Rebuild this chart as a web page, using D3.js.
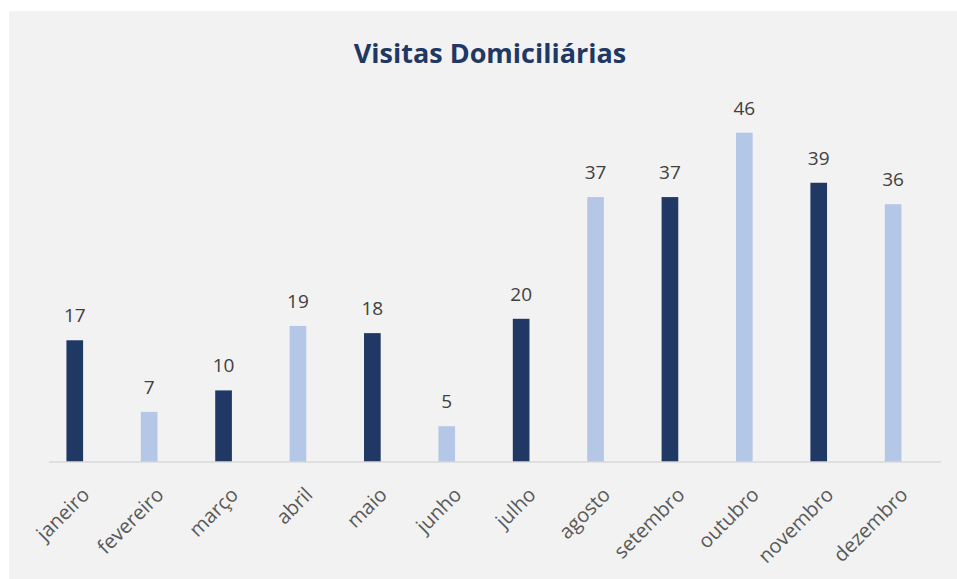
<!DOCTYPE html>
<html>
<head>
<meta charset="utf-8">
<script src="https://cdn.jsdelivr.net/npm/d3@7"></script>
<style>
  body { margin: 0; background: #fff; }
  svg { display: block; }
  .title { font-family: "Open Sans", sans-serif; font-weight: bold; font-size: 27px; fill: #1f3864; }
  .val { font-family: "Open Sans", sans-serif; font-size: 19px; fill: #404040; }
  .month { font-family: "Open Sans", sans-serif; font-size: 20px; fill: #595959; }
</style>
</head>
<body>
<div id="chart"></div>
<script>
var months = ["janeiro", "fevereiro", "março", "abril", "maio", "junho",
              "julho", "agosto", "setembro", "outubro", "novembro", "dezembro"];
var visitas = [17, 7, 10, 19, 18, 5, 20, 37, 37, 46, 39, 36];
var barColors = ["#1f3864", "#b4c7e7"];

var W = 957, H = 579;
var margin = {top: 104, right: 16, bottom: 117, left: 49},
    width = W - margin.left - margin.right,
    height = H - margin.top - margin.bottom;

var svg = d3.select("#chart")
  .append("svg")
    .attr("width", W)
    .attr("height", H);

// panel background
svg.append("rect")
  .attr("x", 9).attr("y", 11)
  .attr("width", W - 9).attr("height", H - 11)
  .attr("fill", "#f2f2f2");

svg.append("text")
  .text("Visitas Domiciliárias")
  .classed("title", true)
  .attr("text-anchor", "middle")
  .attr("x", 490)
  .attr("y", 63);

var g = svg.append("g")
  .attr("transform", "translate(" + margin.left + "," + margin.top + ")");

var x = d3.scaleBand()
  .domain(months)
  .range([0, width])
  .paddingInner(0.776)
  .paddingOuter(0.383)
  .align(0.306);

var y = d3.scaleLinear()
  .domain([0, 50])
  .range([height, 0]);

g.selectAll("rect.bar")
  .data(visitas)
  .enter()
  .append("rect")
    .attr("class", "bar")
    .attr("x", function(d, i) { return x(months[i]); })
    .attr("y", function(d) { return y(d); })
    .attr("width", x.bandwidth())
    .attr("height", function(d) { return height - y(d); })
    .attr("fill", function(d, i) { return barColors[i % 2]; });

g.selectAll("text.val")
  .data(visitas)
  .enter()
  .append("text")
    .attr("class", "val")
    .attr("text-anchor", "middle")
    .attr("x", function(d, i) { return x(months[i]) + x.bandwidth() / 2; })
    .attr("y", function(d) { return y(d) - 18; })
    .text(function(d) { return d; });

// baseline
g.append("line")
  .attr("x1", 0).attr("x2", width)
  .attr("y1", height).attr("y2", height)
  .attr("stroke", "#d9d9d9")
  .attr("stroke-width", 1.5);

g.selectAll("text.month")
  .data(months)
  .enter()
  .append("text")
    .attr("class", "month")
    .attr("text-anchor", "end")
    .attr("dy", "0.35em")
    .attr("transform", function(d) {
      var cx = x(d) + x.bandwidth() / 2 + 11;
      return "translate(" + cx + "," + (height + 29) + ") rotate(-45)";
    })
    .text(function(d) { return d; });
</script>
</body>
</html>
